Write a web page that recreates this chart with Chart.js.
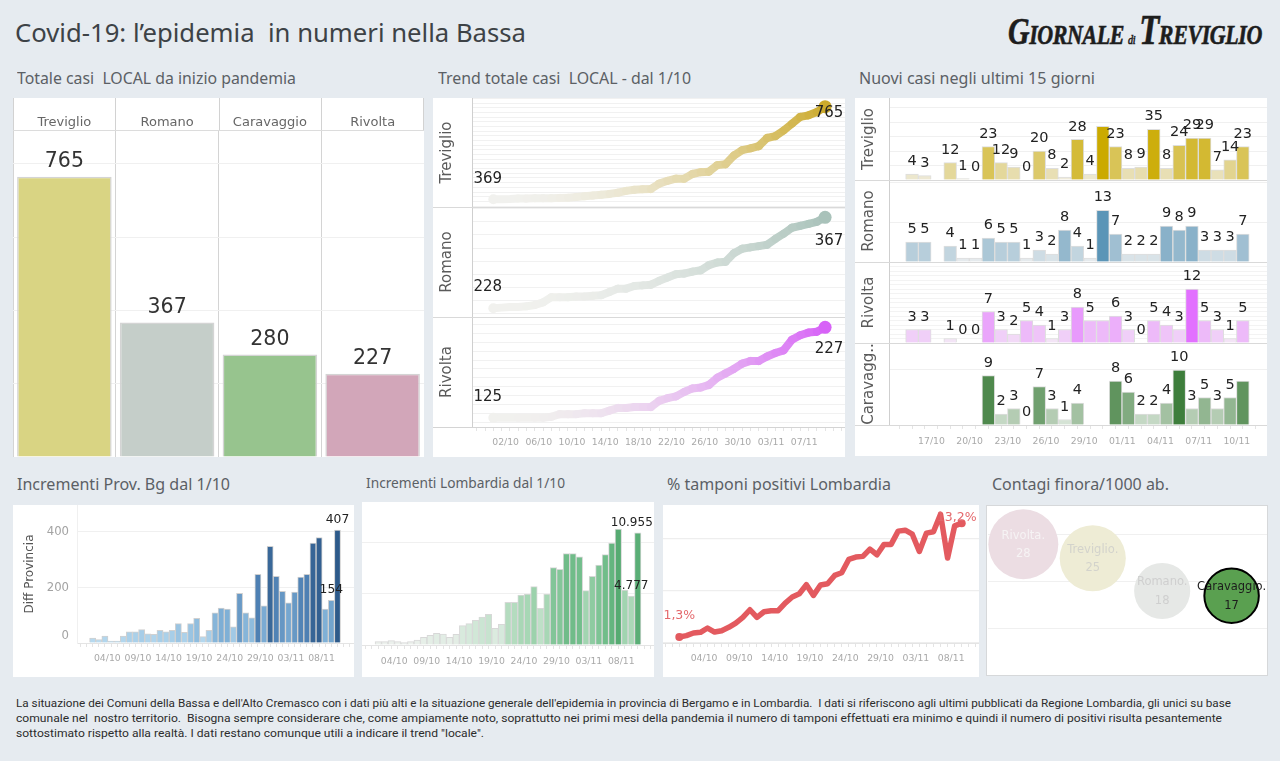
<!DOCTYPE html>
<html lang="it"><head><meta charset="utf-8"><title>Covid-19</title>
<script src="https://cdn.jsdelivr.net/npm/chart.js@4"></script>
<style>
html,body{margin:0;padding:0;width:1280px;height:761px;overflow:hidden;background:#e6ebf0}
.abs{position:absolute}
.panel{position:absolute;background:#fff}
.txt{position:absolute;white-space:pre;transform-origin:left center;line-height:1}
canvas{position:absolute}
</style></head><body>
<script>
// ---- DATA ----
const days=['01/10','02/10','03/10','04/10','05/10','06/10','07/10','08/10','09/10','10/10','11/10','12/10','13/10','14/10','15/10','16/10','17/10','18/10','19/10','20/10','21/10','22/10','23/10','24/10','25/10','26/10','27/10','28/10','29/10','30/10','31/10','01/11','02/11','03/11','04/11','05/11','06/11','07/11','08/11','09/11','10/11'];
const towns=['Treviglio','Romano','Caravaggio','Rivolta'];
const totalCases=[765,367,280,227];
const trendTreviglio=[369,369,370,372,372,373,373,373,375,376,379,382,385,388,392,397,405,410,412,413,436,448,457,457,477,485,487,515,519,556,579,587,596,631,639,663,692,721,728,742,765];
const trendRomano=[228,229,230,230,231,233,237,245,245,245,246,246,247,248,253,258,258,262,263,264,270,275,280,281,284,286,294,298,299,312,319,321,323,325,334,342,351,354,357,360,367];
const trendRivolta=[125,125,125,125,125,125,125,126,129,129,129,130,130,130,133,136,136,137,137,137,144,147,149,154,158,159,162,170,175,180,186,189,189,194,198,201,213,218,221,222,227];
const newTreviglio=[4,3,null,12,1,0,23,12,9,0,20,8,2,28,4,37,23,8,9,35,8,24,29,29,7,14,23];
const newRomano=[5,5,null,4,1,1,6,5,5,1,3,2,8,4,1,13,7,2,2,2,9,8,9,3,3,3,7];
const newRivolta=[3,3,null,1,0,0,7,3,2,5,4,1,3,8,5,5,6,3,0,5,4,3,12,5,3,1,5];
const newCaravaggio=[null,null,null,null,null,null,9,2,3,0,7,3,1,4,null,null,8,6,2,2,4,10,3,5,3,5,8];
const provinceDiff=[18,12,25,7,7,25,40,40,48,33,31,46,40,46,70,38,70,89,23,46,109,126,122,58,179,109,91,247,134,348,240,186,145,183,237,247,360,380,122,154,407];
const lombardyDiff=[325,325,420,325,230,325,490,750,945,1140,1075,750,1040,1890,2085,2410,2735,3000,1630,2020,4170,4170,4885,4985,5700,3580,4985,7560,7395,8925,8925,8630,5310,6710,7820,8830,9970,11335,5370,4777,10955];
const positivePct=[1.3,1.44,1.72,1.79,2.24,1.82,1.96,2.31,2.76,3.35,4.15,3.35,3.94,4.05,4.05,4.85,5.48,5.82,6.76,5.65,6.73,6.87,7.74,8.02,9.41,9.66,9.73,10.49,9.9,10.98,10.98,12.37,12.47,12.05,10.24,12.16,12.3,14.14,9.55,12.92,13.2];
const perThousandTowns=['Rivolta.','Treviglio.','Romano.','Caravaggio.'];
const perThousand=[28,25,18,17];
const trendTicks=['02/10','06/10','10/10','14/10','18/10','22/10','26/10','30/10','03/11','07/11'];
const newCaseTicks=['17/10','20/10','23/10','26/10','29/10','01/11','04/11','07/11','10/11'];
const monthTicks=['04/10','09/10','14/10','19/10','24/10','29/10','03/11','08/11'];
const newCaseDays=days.slice(14);
const footerLines=[
"La situazione dei Comuni della Bassa e dell'Alto Cremasco con i dati più alti e la situazione generale dell'epidemia in provincia di Bergamo e in Lombardia.  I dati si riferiscono agli ultimi pubblicati da Regione Lombardia, gli unici su base",
"comunale nel  nostro territorio.  Bisogna sempre considerare che, come ampiamente noto, soprattutto nei primi mesi della pandemia il numero di tamponi effettuati era minimo e quindi il numero di positivi risulta pesantemente",
"sottostimato rispetto alla realtà. I dati restano comunque utili a indicare il trend \"locale\"."];

// ---- HELPERS ----
const DV='"DejaVu Sans"';
Chart.defaults.animation=false;
Chart.defaults.responsive=false;
Chart.defaults.font.family=DV;
const body=document.body;
function panel(x,y,w,h,extra){const d=document.createElement('div');d.className='panel';d.style.cssText=`left:${x}px;top:${y}px;width:${w}px;height:${h}px;${extra||''}`;body.appendChild(d);}
function line(x1,y1,x2,y2,c,t){const d=document.createElement('div');d.className='abs';t=t||1;
 d.style.cssText=`left:${x1}px;top:${y1}px;width:${x2>x1?x2-x1:t}px;height:${y2>y1?y2-y1:t}px;background:${c};z-index:5`;body.appendChild(d);}
function text(s,x,yc,w,font,color,extra){const d=document.createElement('div');d.className='txt';d.textContent=s;
 d.style.cssText=`left:${x}px;font:${font};color:${color};${extra||''}`;body.appendChild(d);
 const r=d.getBoundingClientRect();d.style.top=(yc-r.height/2)+'px';
 if(w)d.style.transform=`scaleX(${w/r.width})`;return d;}
function chart(x,y,w,h,cfg){const c=document.createElement('canvas');c.width=w;c.height=h;c.style.cssText=`left:${x}px;top:${y}px;width:${w}px;height:${h}px;z-index:3`;body.appendChild(c);
 cfg.options=cfg.options||{};cfg.options.layout={padding:0,autoPadding:false};
 cfg.options.plugins=Object.assign({legend:{display:false},tooltip:{enabled:false}},cfg.options.plugins||{});
 return new Chart(c,cfg);}
const fitW=w=>s=>{s.width=w;s.paddingTop=0;s.paddingBottom=0;s.paddingLeft=0;s.paddingRight=0;};
const fitH=h=>s=>{s.height=h;s.paddingLeft=0;s.paddingRight=0;s.paddingTop=0;s.paddingBottom=0;};
const stepTicks=step=>s=>{const t=[];for(let v=Math.ceil(s.min/step)*step;v<=s.max+1e-6;v+=step)t.push({value:v});s.ticks=t;};
const hex=c=>[1,3,5].map(i=>parseInt(c.substr(i,2),16));
const mix=(a,b,t)=>{const A=hex(a),B=hex(b);return `rgb(${A.map((v,i)=>Math.round(v+(B[i]-v)*t)).join(',')})`;};
const ramp=(vals,a,b,g)=>{const m=Math.max(...vals.filter(v=>v!=null));return vals.map(v=>mix(a,b,Math.pow((v||0)/m,g||1)));};
const rampStops=(vals,stops)=>{const m=Math.max(...vals);return vals.map(v=>{const t=v/m;let i=0;while(i<stops.length-2&&t>stops[i+1][0])i++;
 const [p,a]=stops[i],[q,b]=stops[i+1];return mix(a,b,(t-p)/(q-p));});};
function labels(items,font,color){return {id:'markLabels',afterDatasetsDraw(ch){const c=ch.ctx;c.save();c.font=font;c.fillStyle=color;c.textAlign='center';c.textBaseline='middle';
 const ds=ch.getDatasetMeta(0).data;items.forEach(it=>{const e=ds[it.i];if(!e)return;c.fillStyle=it.color||color;if(it.font)c.font=it.font;c.fillText(it.t,e.x+(it.dx||0),e.y+(it.dy||0));});c.restore();}};}
function dayAxis(min,max,names,ticks,off,h,pad){
 const map={};ticks.forEach(t=>{map[names.indexOf(t)]=t;});
 return {type:'linear',offset:false,bounds:'data',min,max,afterFit:fitH(h),
  afterBuildTicks:s=>{const t=[];for(let v=Math.ceil(min);v<=max;v++)t.push({value:v});s.ticks=t;},
  ticks:{autoSkip:false,maxRotation:0,minRotation:0,labelOffset:off,padding:pad,color:'#a9a9a9',font:{size:9.3,family:DV},callback:v=>map[v]||''},
  grid:{drawOnChartArea:false,offset:false,tickLength:4,color:'#e4e4e4'},border:{color:'#e4e4e4'}};
}
const hiddenX=(min,max)=>({type:'linear',display:false,offset:false,bounds:'data',min,max,grid:{offset:false}});
const gridY=(min,max,step,w,title,col)=>({min,max,afterBuildTicks:stepTicks(step),afterFit:fitW(w),
  ticks:{display:false},grid:{color:col||'#f0f0f0',drawTicks:false},
  border:{display:!!title,color:'#cfcfcf'},
  title:title?{display:true,text:title,color:'#5a5a5a',font:{size:15,family:DV},padding:{top:5.5,bottom:0}}:{display:false}});

// ---- PANELS & TEXT ----
panel(13,98,411,359);panel(433,98,412,359);panel(855,98,412,358);
panel(13,505,341,172);panel(362,502,292,175);panel(663,505,316,172);
panel(987,506,280,169,'outline:1px solid #d6d8da');

const TITLE='"Noto Sans"';
text('Covid-19: l’epidemia  in numeri nella Bassa',15,32,511,`400 25px ${TITLE}`,'#3d4246');
[['Totale casi  LOCAL da inizio pandemia',17,77,279],['Trend totale casi  LOCAL - dal 1/10',438,77,253],['Nuovi casi negli ultimi 15 giorni',859,77,236],
 ['Incrementi Prov. Bg dal 1/10',17,483,213],['% tamponi positivi Lombardia',667,483,224],['Contagi finora/1000 ab.',992,483,177]]
 .forEach(a=>text(a[0],a[1],a[2],a[3],`400 16.5px ${TITLE}`,'#5b6065'));
text('Incrementi Lombardia dal 1/10',366,482,199,`400 14.5px ${TITLE}`,'#5b6065');
footerLines.forEach((s,i)=>text(s,16,703+i*15,[1215,1206,468][i],'400 11.5px Roboto','#2c2c2c'));

// Logo
(function(){const d=document.createElement('div');d.className='txt';
 d.style.cssText='left:1008px;top:6px;font:italic 700 28px "Liberation Serif";color:#1d1d1d;letter-spacing:-.5px';
 d.innerHTML='<span style="font-size:38px">G</span>IORNALE<span style="font-size:13px;font-weight:400;margin:0 5px">di</span><span style="font-size:42px">T</span>REVIGLIO';
 body.appendChild(d);const r=d.getBoundingClientRect();d.style.transform=`scaleX(${254/r.width})`;d.style.webkitTextStroke='0.6px #1d1d1d';})();

// ---- 1. Totale casi ----
line(13,98,14,131,'#d2d2d2',1);[115,219,321,423].forEach(x=>line(x,98,x+1,131,'#d2d2d2',1));
line(13,130,424,131,'#dcdcdc',2);
chart(13,98,411,359,{type:'bar',
 data:{labels:towns,datasets:[{data:totalCases,backgroundColor:['#d9d483','#c5cec9','#97c48e','#d2a6b9'],borderColor:'#d4d4d4',borderWidth:1.5,barPercentage:.92,categoryPercentage:1}]},
 options:{scales:{
  x:{position:'top',afterFit:fitH(33),ticks:{color:'#666',font:{size:13,family:DV},padding:1},grid:{color:'#d4d4d4',drawTicks:false,offset:true},border:{display:false}},
  y:{min:0,max:890,afterBuildTicks:stepTicks(200),afterFit:fitW(0),ticks:{display:false},grid:{color:'#f0f0f0',drawTicks:false},border:{display:false}}}},
 plugins:[labels(totalCases.map((v,i)=>({i,t:String(v),dy:-15})),`20.5px ${DV}`,'#333')]});

// ---- 2. Trend ----
function trend(y,h,vals,min,max,step,name,end,txt,axisH){
 const pts=vals.map((v,i)=>({x:i,y:v}));const colAt=i=>mix('#f1f1ee',end,Math.pow(i/40,2));
 const first=vals[0],last=vals[vals.length-1];
 chart(433,y,412,h,{type:'line',
  data:{datasets:[{data:pts,borderWidth:8,borderCapStyle:'round',borderJoinStyle:'round',clip:false,tension:0,
    segment:{borderColor:c=>colAt(c.p0DataIndex)},
    pointRadius:c=>c.dataIndex===40?6.5:(c.dataIndex===0?5:0),pointBorderWidth:0,pointBackgroundColor:c=>colAt(c.dataIndex)}]},
  options:{scales:{x:axisH?dayAxis(-2.57,42.4,days,trendTicks,4,axisH,6.5):hiddenX(-2.57,42.4),y:gridY(min,max,step,39,name,'#f1f1f1')}},
  plugins:[labels([{i:0,t:String(first),dx:-5.5,dy:txt[0]},{i:40,t:String(last),dx:4,dy:txt[1]}],`15px ${DV}`,'#222')]});
}
trend(98,109,trendTreviglio,336,802,20,'Treviglio',"#ccaa2c",[-20,6],0);
trend(207,110,trendRomano,214.7,382.7,20,'Romano',"#a9c2ba",[-21,24],0);
trend(317,140,trendRivolta,114.5,238.6,10,'Rivolta',"#d762f7",[-21,22],30);
line(433,207,845,208,'#d9d9d9',2);line(433,317,845,318,'#d9d9d9',1);line(433,427,845,428,'#d4d4d4',1);

// ---- 3. Nuovi casi ----
function newCases(y,h,vals,ymax,step,name,a,b,hide,axisH,gridCol){
 const pts=vals.map((v,i)=>({x:i,y:v}));const cols=ramp(vals,a,b);
 chart(855,y,412,h,{type:'bar',
  data:{datasets:[{data:pts,backgroundColor:cols,borderColor:'#dedede',borderWidth:1,barPercentage:1,categoryPercentage:1}]},
  options:{scales:{x:axisH?dayAxis(-1.81,27.9,newCaseDays,newCaseTicks,-6,axisH,7.5):hiddenX(-1.81,27.9),y:gridY(0,ymax,step,34,name,gridCol)}},
  plugins:[labels(vals.map((v,i)=>({i,t:v==null?'':String(v),dy:-12.7})).filter(o=>o.t!==''&&!hide.includes(o.i)),`14.5px ${DV}`,'#222')]});
}
newCases(98,82,newTreviglio,56.6,10,'Treviglio','#f0eee6','#cbaa00',[15],0);
newCases(180,82,newRomano,20.6,10,'Romano','#f0f1f1','#5b95b7',[],0);
newCases(262,81,newRivolta,18,1,'Rivolta','#f5eef5','#e270ff',[15],0,'#f3f3f3');
newCases(343,113,newCaravaggio,14.9,10,'Caravagg..','#e6eee6','#3e7e3c',[26],31);
line(855,180,1267,181,'#d9d9d9',1);line(855,262,1267,263,'#d9d9d9',1);line(855,343,1267,344,'#d9d9d9',1);line(855,425,1267,426,'#d9d9d9',1);

// ---- 4. Provincia ----
chart(13,505,341,172,{type:'bar',
 data:{datasets:[{data:provinceDiff.map((v,i)=>({x:i,y:v})),backgroundColor:rampStops(provinceDiff,[[0,'#bfe0f3'],[.3,'#7fb0d6'],[.6,'#4f81b4'],[1,'#2d5a8a']]),borderColor:'#d0d0d0',borderWidth:1,barPercentage:1,categoryPercentage:1}]},
 options:{scales:{x:dayAxis(-2.56,42.7,days,monthTicks,-3.7,34,6),
  y:{min:0,max:497,afterBuildTicks:stepTicks(200),afterFit:fitW(64),
     ticks:{color:'#a3a3a3',font:{size:11.7,family:DV},padding:8,callback:v=>v===0?['0','']:String(v)},grid:{color:'#f0f0f0',drawTicks:false},border:{color:'#f0f0f0'},
     title:{display:true,text:'Diff Provincia',color:'#555',font:{size:12,family:DV},padding:{top:10,bottom:0}}}}},
 plugins:[labels([{i:40,t:'407',dy:-10.5},{i:39,t:'154',dy:-10.5}],`12.3px ${DV}`,'#222')]});

// ---- 5. Lombardia ----
const dotted=v=>String(v).replace(/\B(?=(\d{3})+$)/g,'.');
chart(362,502,292,175,{type:'bar',
 data:{datasets:[{data:lombardyDiff.map((v,i)=>({x:i,y:v})),backgroundColor:rampStops(lombardyDiff,[[0,'#f0f2f0'],[.2,'#d3e8d9'],[.45,'#a5d6b3'],[.75,'#74bf8d'],[1,'#56ab72']]),borderColor:'#d8d8d8',borderWidth:1,barPercentage:1,categoryPercentage:1}]},
 options:{scales:{x:dayAxis(-2.51,42.5,days,monthTicks,-3.5,32,7),y:gridY(0,13977,5000,0,null)}},
 plugins:[labels([{i:40,t:dotted(lombardyDiff[40]),dx:-6,dy:-10.5},{i:39,t:dotted(lombardyDiff[39]),dy:-10.5}],`12px ${DV}`,'#222')]});

// ---- 6. % tamponi ----
const red='#e35a5f';
chart(663,505,316,172,{type:'line',
 data:{datasets:[{data:positivePct.map((v,i)=>({x:i,y:v})),borderColor:red,borderWidth:5.5,borderJoinStyle:'round',tension:0,clip:false,
   pointRadius:c=>(c.dataIndex===0||c.dataIndex===40)?4:0,pointBorderWidth:0,pointBackgroundColor:red}]},
 options:{scales:{x:dayAxis(-2.31,42.45,days,monthTicks,3.6,34,6),
  y:{min:.674,max:15.1,afterBuildTicks:s=>{s.ticks=[.674,6.13,11.56].map(value=>({value}));},afterFit:fitW(0),ticks:{display:false},grid:{color:'#eeeeee',drawTicks:false,lineWidth:1.2},border:{display:false}}}},
 plugins:[labels([{i:0,t:'1,3%',dy:-21.7},{i:40,t:'13,2%',dx:-5,dy:-5}],`12.5px ${DV}`,'#e4686c')]});

// ---- 7. Contagi ----
const bubbleFill=['#ecdde3','#eeecd5','#e6e8e6','#5aa050'];
const bubbleEdge=['#ecdde3','#eeecd5','#e6e8e6','#000000'];
const bubbleText=['#f6f3f4','#d3d3cc','#cfcfcf','#1c1c1c'];
const bubblePts=perThousand.map((v,i)=>({x:i,y:v,r:6.61*Math.sqrt(v)}));
chart(988,506,279,169,{type:'bubble',
 data:{datasets:[{data:bubblePts,backgroundColor:bubbleFill,borderColor:bubbleEdge,borderWidth:c=>c.dataIndex===3?2:0,clip:false}]},
 options:{scales:{x:hiddenX(-.509,3.51),y:gridY(0,36.2,10,0,null)}},
 plugins:[labels(perThousand.flatMap((v,i)=>[
  {i,t:perThousandTowns[i],dy:-8.5,color:bubbleText[i]},{i,t:String(v),dy:10,color:bubbleText[i]}]),`11.5px ${DV}`,'#222')]});
</script>
</body></html>
